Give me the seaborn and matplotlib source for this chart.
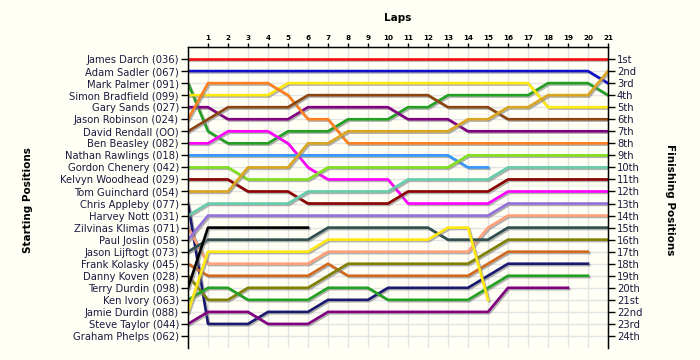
import numpy as np
import pandas as pd
import matplotlib
matplotlib.use("Agg")
import matplotlib.pyplot as plt
import matplotlib.patheffects as pe
import seaborn as sns

N = None
laps = list(range(0, 22))

drivers = ["James Darch (036)", "Adam Sadler (067)", "Mark Palmer (091)",
           "Simon Bradfield (099)", "Gary Sands (027)", "Jason Robinson (024)",
           "David Rendall (OO)", "Ben Beasley (082)", "Nathan Rawlings (018)",
           "Gordon Chenery (042)", "Kelvyn Woodhead (029)", "Tom Guinchard (054)",
           "Chris Appleby (077)", "Harvey Nott (031)", "Zilvinas Klimas (071)",
           "Paul Joslin (058)", "Jason Lijftogt (073)", "Frank Kolasky (045)",
           "Danny Koven (028)", "Terry Durdin (098)", "Ken Ivory (063)",
           "Jamie Durdin (088)", "Steve Taylor (044)", "Graham Phelps (062)"]

finish_labels = ["1st", "2nd", "3rd", "4th", "5th", "6th", "7th", "8th", "9th",
                 "10th", "11th", "12th", "13th", "14th", "15th", "16th", "17th",
                 "18th", "19th", "20th", "21st", "22nd", "23rd", "24th"]

darch     = [1,1,1,1,1,1,1,1,1,1,1,1,1,1,1,1,1,1,1,1,1,1]
sadler    = [2,2,2,2,2,2,2,2,2,2,2,2,2,2,2,2,2,2,2,2,2,3]
palmer    = [3,7,8,8,8,7,7,7,6,6,6,5,5,4,4,4,4,4,3,3,3,4]
bradfield = [4,4,4,4,4,3,3,3,3,3,3,3,3,3,3,3,3,3,5,5,5,5]
sands     = [5,5,6,6,6,6,5,5,5,5,5,6,6,6,7,7,7,7,7,7,7,7]
robinson  = [6,3,3,3,3,4,6,6,8,8,8,8,8,8,8,8,8,8,8,8,8,8]
rendall   = [7,6,5,5,5,5,4,4,4,4,4,4,4,5,5,5,6,6,6,6,6,6]
beasley   = [8,8,7,7,7,8,10,11,11,11,11,13,13,13,13,13,12,12,12,12,12,12]
rawlings  = [9,9,9,9,9,9,9,9,9,9,9,9,9,9,10,10,N,N,N,N,N,N]
chenery   = [10,10,10,11,11,11,11,10,10,10,10,10,10,10,9,9,9,9,9,9,9,9]
woodhead  = [11,11,11,12,12,12,13,13,13,13,13,12,12,12,12,12,11,11,11,11,11,11]
guinchard = [12,12,12,10,10,10,8,8,7,7,7,7,7,7,6,6,5,5,4,4,4,2]
appleby   = [13,23,23,23,22,22,22,21,21,21,20,20,20,20,20,19,18,18,18,18,18,N]
nott      = [14,13,13,13,13,13,12,12,12,12,12,11,11,11,11,11,10,10,10,10,10,10]
klimas    = [15,18,18,18,18,18,18,17,17,17,17,17,17,17,17,15,14,14,14,14,14,14]
joslin    = [16,14,14,14,14,14,14,14,14,14,14,14,14,14,14,14,13,13,13,13,13,13]
lijftogt  = [17,16,16,16,16,16,16,15,15,15,15,15,15,16,16,16,15,15,15,15,15,15]
kolasky   = [18,19,19,19,19,19,19,18,19,19,19,19,19,19,19,18,17,17,17,17,17,N]
koven     = [19,21,21,20,20,20,20,19,18,18,18,18,18,18,18,17,16,16,16,16,16,16]
t_durdin  = [20,15,15,15,15,15,15,N,N,N,N,N,N,N,N,N,N,N,N,N,N,N]
ivory     = [21,20,20,21,21,21,21,20,20,20,21,21,21,21,21,20,19,19,19,19,19,N]
j_durdin  = [22,17,17,17,17,17,17,16,16,16,16,16,16,15,15,21,N,N,N,N,N,N]
taylor    = [23,22,22,22,23,23,23,22,22,22,22,22,22,22,22,22,20,20,20,20,N,N]
phelps    = [N,N,N,N,N,N,N,N,N,N,N,N,N,N,N,N,N,N,N,N,N,N]

series = [darch, sadler, palmer, bradfield, sands, robinson, rendall, beasley,
          rawlings, chenery, woodhead, guinchard, appleby, nott, klimas, joslin,
          lijftogt, kolasky, koven, t_durdin, ivory, j_durdin, taylor, phelps]

colors = ["#ee1111", "#1010cc", "#22a022", "#ffe810", "#800080", "#ff8020",
          "#8b4513", "#ff00ff", "#3399ff", "#80e020", "#8b0000", "#daa520",
          "#191970", "#66cdaa", "#ffa07a", "#9370db", "#2f4f4f", "#d2691e",
          "#808000", "#000000", "#22a022", "#ffe810", "#800080", "#999999"]

rows = []
for d, s in zip(drivers, series):
    for lap, p in zip(laps, s):
        if p is not None:
            rows.append({"driver": d, "lap": lap, "pos": p})
df = pd.DataFrame(rows)
present = [d for d in drivers if d in set(df["driver"])]
palette = {d: c for d, c in zip(drivers, colors)}

BG = "#fffff5"
fig = plt.figure(figsize=(7, 3.6), dpi=100, facecolor=BG)
ax = fig.add_axes([188/700, 1-348/360, 420/700, 301/360])
ax.set_facecolor(BG)

sns.lineplot(data=df, x="lap", y="pos", hue="driver", hue_order=present,
             palette=palette, estimator=None, sort=False, legend=False,
             lw=1.9, ax=ax)
for ln in ax.get_lines():
    ln.set_path_effects([pe.SimpleLineShadow(offset=(1, -1), shadow_color="#808080", alpha=0.6),
                         pe.Normal()])

ax.set_xlim(0, 21)
ax.set_ylim(25, 0)
ax.set_xticks(list(range(1, 22)))
ax.set_xticklabels([str(i) for i in range(1, 22)], fontsize=5.2, fontweight="bold")
ax.xaxis.tick_top()
ax.set_yticks(list(range(1, 25)))
ax.set_yticklabels(drivers, fontsize=7.2, color="#1a1a40")
ax.grid(True, color="#e4e4e4", lw=1)
ax.set_axisbelow(True)
ax.tick_params(axis="y", length=5, width=1, pad=1.5, color="black")
ax.tick_params(axis="x", length=3, width=1, pad=1.5, color="black")
ax.set_xlabel("")
ax.set_ylabel("")
for side in ["left", "top", "right"]:
    ax.spines[side].set_color("black")
    ax.spines[side].set_linewidth(1)
ax.spines["bottom"].set_visible(False)

ax2 = ax.twinx()
ax2.set_ylim(25, 0)
ax2.set_yticks(list(range(1, 25)))
ax2.set_yticklabels(finish_labels, fontsize=7.2, color="#1a1a40")
ax2.tick_params(axis="y", length=5, width=1, pad=1.5, color="black")
ax2.spines["bottom"].set_visible(False)
ax2.spines["right"].set_color("black")
ax2.grid(False)

fig.text(398/700, 1-18/360, "Laps", fontsize=7.5, fontweight="bold",
         ha="center", va="center")
fig.text(28/700, 1-200/360, "Starting Positions", fontsize=7.5, fontweight="bold",
         ha="center", va="center", rotation=90)
fig.text(670/700, 1-200/360, "Finishing Positions", fontsize=7.5, fontweight="bold",
         ha="center", va="center", rotation=270)

fig.savefig("out.png", dpi=100, facecolor=BG)
